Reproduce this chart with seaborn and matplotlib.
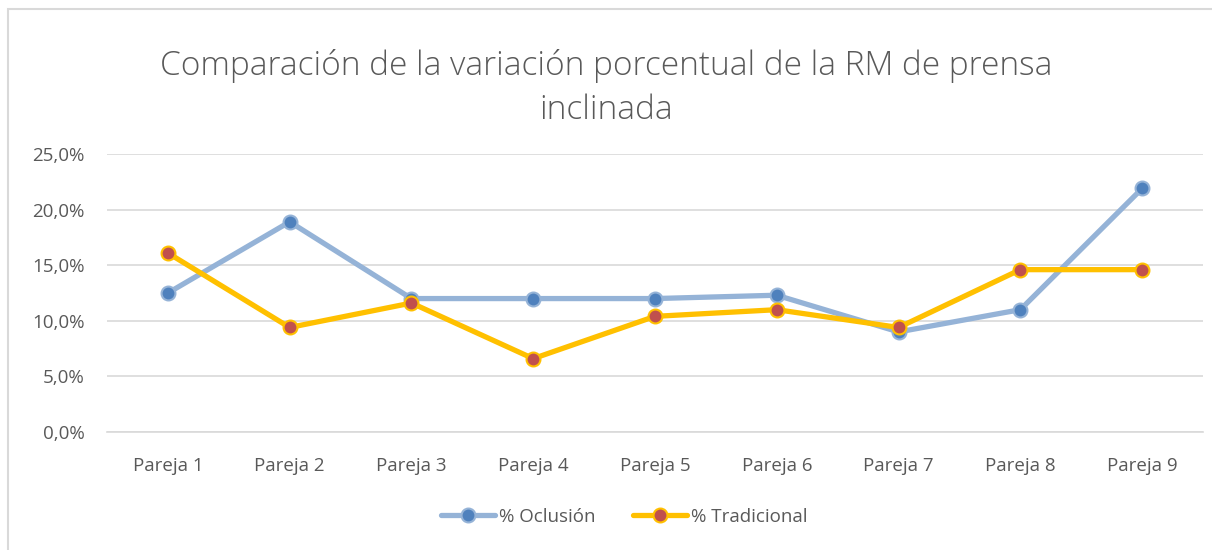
import matplotlib
matplotlib.use("Agg")
import matplotlib.pyplot as plt
import matplotlib.ticker as mticker
from matplotlib.patches import Rectangle
from matplotlib.lines import Line2D
import seaborn as sns
import pandas as pd

categories = ["Pareja 1", "Pareja 2", "Pareja 3", "Pareja 4", "Pareja 5",
              "Pareja 6", "Pareja 7", "Pareja 8", "Pareja 9"]
oclusion = [0.125, 0.189, 0.120, 0.120, 0.120, 0.123, 0.090, 0.110, 0.219]
tradicional = [0.161, 0.094, 0.116, 0.066, 0.104, 0.110, 0.094, 0.146, 0.146]
series_names = ["% Oclusión", "% Tradicional"]
title = "Comparación de la variación porcentual de la RM de prensa\ninclinada"

sns.set_theme(style="white")
plt.rcParams["font.family"] = ["Open Sans", "DejaVu Sans"]

fig = plt.figure(figsize=(12.12, 5.5), dpi=100)
fig.patches.append(Rectangle((8 / 1212, -0.1), 1.2, 1 - 9 / 550 + 0.1,
                             transform=fig.transFigure, fill=False,
                             edgecolor="#D9D9D9", linewidth=1.5))
ax = fig.add_axes([107 / 1212, 1 - 432 / 550, (1203 - 107) / 1212, (432 - 154) / 550])

df = pd.DataFrame({"x": list(range(len(categories))), "oc": oclusion, "tr": tradicional})

sns.lineplot(data=df, x="x", y="oc", ax=ax, color="#95B3D7", linewidth=3.8,
             marker="o", markersize=10, markerfacecolor="#4F81BD",
             markeredgecolor="#95B3D7", markeredgewidth=1.5, zorder=3)
sns.lineplot(data=df, x="x", y="tr", ax=ax, color="#FFC000", linewidth=3.8,
             marker="o", markersize=10, markerfacecolor="#C0504D",
             markeredgecolor="#FFC000", markeredgewidth=1.5, zorder=4)

ax.set_xlim(-0.5, len(categories) - 0.5)
ax.set_ylim(0, 0.25)
ax.set_xticks(range(len(categories)))
ax.set_xticklabels(categories)
ax.set_yticks([0, 0.05, 0.10, 0.15, 0.20, 0.25])
ax.yaxis.set_major_formatter(mticker.FuncFormatter(lambda v, p: f"{v*100:.1f}%".replace(".", ",")))
ax.grid(axis="y", color="#D9D9D9", linewidth=1.2)
ax.set_axisbelow(True)
for s in ["top", "right", "left"]:
    ax.spines[s].set_visible(False)
ax.spines["bottom"].set_color("#D9D9D9")
ax.spines["bottom"].set_linewidth(1.2)
ax.tick_params(axis="both", length=0, labelsize=13.5, labelcolor="#595959")
ax.tick_params(axis="x", pad=18)
ax.tick_params(axis="y", pad=16)
ax.set_xlabel("")
ax.set_ylabel("")

fig.text(0.5, 1 - 88 / 550, title, ha="center", va="center", fontsize=24,
         color="#595959", fontweight="light", linespacing=1.4)

handles = [Line2D([0], [0], color="#95B3D7", lw=3.8, marker="o", markersize=10,
                  markerfacecolor="#4F81BD", markeredgecolor="#95B3D7", markeredgewidth=1.5),
           Line2D([0], [0], color="#FFC000", lw=3.8, marker="o", markersize=10,
                  markerfacecolor="#C0504D", markeredgecolor="#FFC000", markeredgewidth=1.5)]
leg = fig.legend(handles, series_names, loc="center", bbox_to_anchor=(0.515, 1 - 517 / 550),
                 ncol=2, frameon=False, fontsize=13.5, handlelength=2.9, handletextpad=0.2,
                 columnspacing=2.0, labelcolor="#595959")

fig.savefig("out.png", dpi=100)
